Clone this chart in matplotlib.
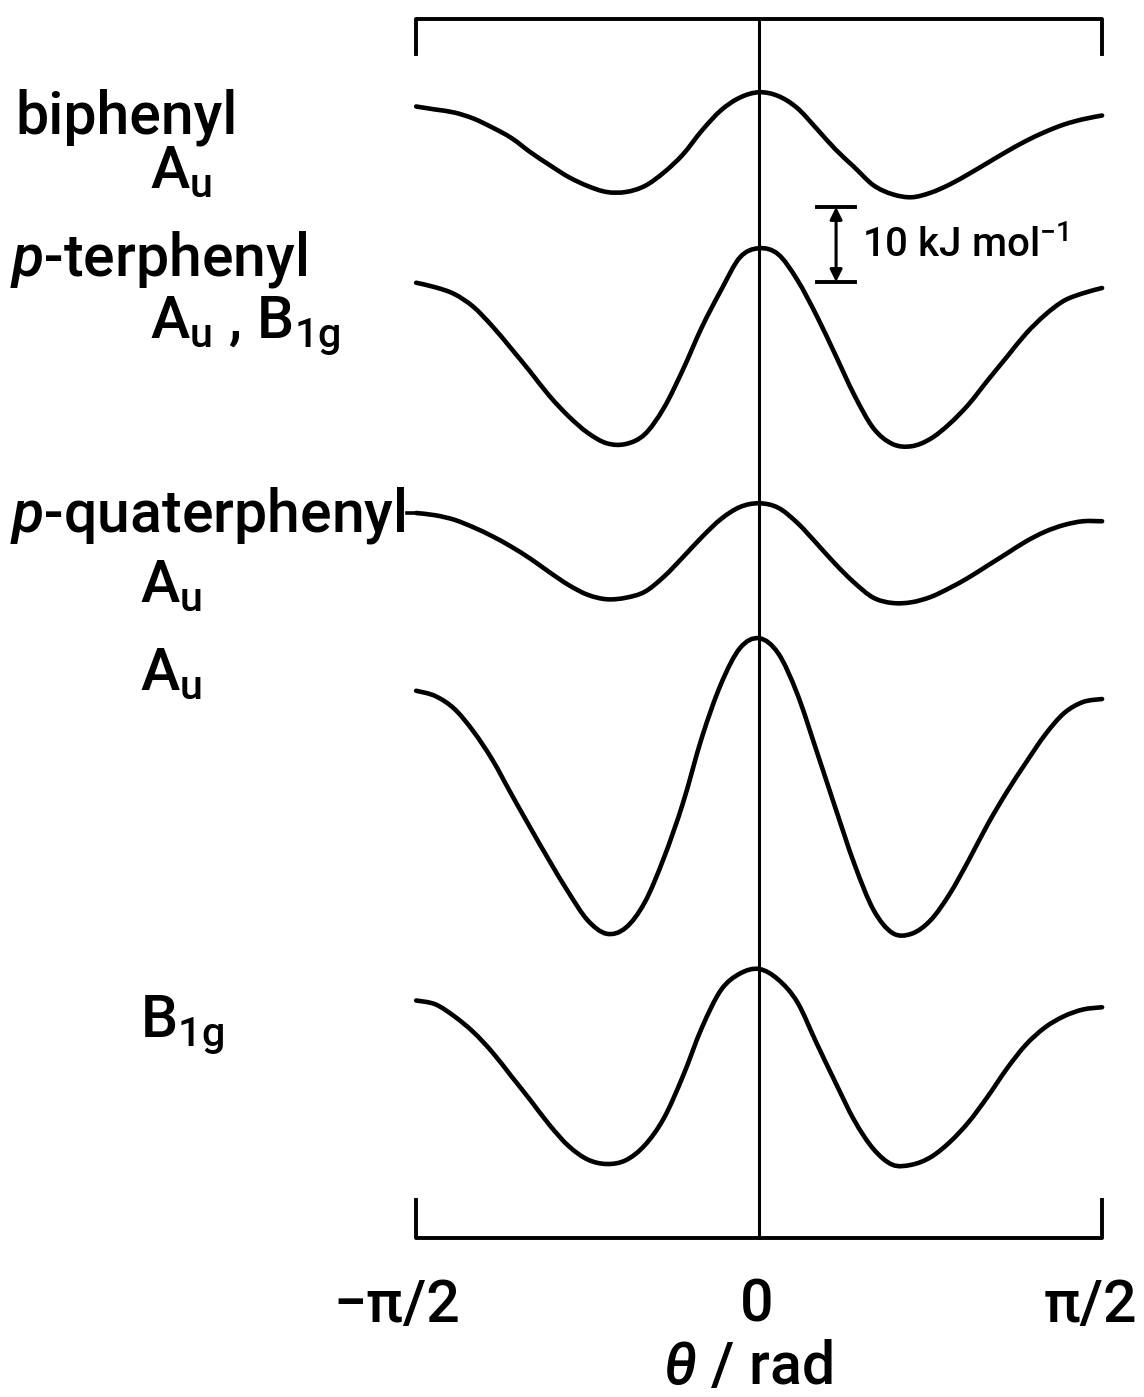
import numpy as np
import matplotlib.pyplot as plt
from matplotlib.path import Path
from matplotlib.patches import PathPatch

plt.rcParams['font.family'] = ['Roboto', 'DejaVu Sans']
plt.rcParams['font.weight'] = 'medium'
plt.rcParams['mathtext.fontset'] = 'custom'
plt.rcParams['mathtext.rm'] = 'Roboto:medium'
plt.rcParams['mathtext.it'] = 'Roboto:italic:medium'

W, H = 1144, 1397

# torsion angle grid, degrees
theta_deg = np.arange(-90, 91, 5)

# torsional potentials, kJ/mol above the lowest minimum of each curve
e_biphenyl_au = [12.1, 11.7, 11.3, 10.5, 9.3, 7.9, 6.0, 4.3, 2.7, 1.5, 0.7, 0.7, 1.5, 3.3, 5.7,
                 8.9, 11.6, 13.3, 14.0, 13.5, 11.9, 9.2, 6.4, 4.0, 1.6, 0.4, 0.0, 0.6, 1.7, 3.1,
                 4.6, 6.1, 7.5, 8.7, 9.7, 10.4, 10.9]
e_terphenyl = [21.9, 21.3, 20.4, 18.7, 16.1, 13.1, 10.0, 6.8, 4.1, 1.9, 0.5, 0.4, 1.7, 5.2, 10.3,
               16.0, 20.9, 25.3, 26.5, 25.7, 22.3, 17.6, 12.3, 6.9, 2.5, 0.4, 0.1, 1.1, 3.1, 5.7,
               8.9, 12.0, 15.1, 17.6, 19.5, 20.5, 21.2]
e_quater_au1 = [12.0, 11.7, 11.1, 10.1, 8.9, 7.5, 5.9, 4.1, 2.4, 1.1, 0.5, 0.7, 1.5, 3.5, 6.1,
                8.8, 11.2, 12.8, 13.3, 12.7, 10.7, 8.0, 5.2, 2.7, 0.7, 0.0, 0.1, 0.8, 2.0, 3.4,
                5.0, 6.6, 8.2, 9.5, 10.4, 10.9, 10.9]
e_quater_au2 = [32.7, 32.0, 30.3, 27.3, 23.5, 18.9, 14.4, 10.0, 5.8, 2.1, 0.3, 1.1, 4.5, 10.4, 17.7,
                26.5, 33.6, 38.4, 39.7, 37.7, 32.3, 24.8, 17.1, 9.6, 3.5, 0.4, 0.3, 2.1, 5.6, 10.1,
                14.9, 19.2, 23.1, 26.8, 29.7, 31.2, 31.6]
e_quater_b1g = [22.1, 21.6, 20.0, 17.9, 15.2, 12.0, 8.8, 5.5, 2.7, 0.9, 0.3, 0.8, 2.8, 6.4, 12.0,
                18.5, 23.5, 25.7, 26.3, 24.9, 21.9, 16.5, 11.2, 6.1, 2.3, 0.2, 0.2, 1.2, 3.2, 5.9,
                9.3, 13.0, 16.2, 18.5, 20.0, 20.9, 21.2]

curves = [e_biphenyl_au, e_terphenyl, e_quater_au1, e_quater_au2, e_quater_b1g]
# vertical stacking of the curves, kJ/mol
offsets = [-26.3, -59.6, -80.4, -124.8, -155.5]

scale_bar = 10  # kJ/mol


def smooth_path(x, y):
    # cubic Bezier segments through every point (Catmull-Rom tangents)
    pts = np.column_stack([x, y]).astype(float)
    ext = np.vstack([pts[0], pts, pts[-1]])
    verts = [pts[0]]
    codes = [Path.MOVETO]
    for i in range(len(pts) - 1):
        p0, p1, p2, p3 = ext[i], ext[i + 1], ext[i + 2], ext[i + 3]
        verts += [p1 + (p2 - p0) / 6, p2 - (p3 - p1) / 6, p2]
        codes += [Path.CURVE4] * 3
    return Path(verts, codes)


fig = plt.figure(figsize=(W / 100, H / 100), dpi=100)
ax = fig.add_axes([0, 0, 1, 1])
ax.set_xlim(-199.2, 101.0)
ax.set_ylim(-H / 7.5, 0)
ax.axis('off')

for e, off in zip(curves, offsets):
    path = smooth_path(theta_deg, np.array(e) + off)
    ax.add_patch(PathPatch(path, fill=False, edgecolor='k', lw=3.3,
                           capstyle='round', joinstyle='round'))

# bracket frame and theta = 0 line
ax.plot([-90, -90, 90, 90], [-7.2, -2.5, -2.5, -7.2], color='k', lw=2.8)
ax.plot([-90, -90, 90, 90], [-160.0, -165.1, -165.1, -160.0], color='k', lw=2.8)
ax.plot([0, 0], [-2.5, -165.1], color='k', lw=2.2)

# short leader from the p-quaterphenyl label
ax.plot([-92.3, -90], [-68.4, -68.4], color='k', lw=2.6)

# energy scale bar
sb_x, sb_top = 20.2, -27.6
ax.plot([sb_x - 5, sb_x + 5], [sb_top, sb_top], color='k', lw=2.8)
ax.plot([sb_x - 5, sb_x + 5], [sb_top - scale_bar, sb_top - scale_bar], color='k', lw=2.8)
ax.annotate('', xy=(sb_x, sb_top), xytext=(sb_x, sb_top - scale_bar),
            arrowprops=dict(arrowstyle='<|-|>', color='k', lw=2.2,
                            mutation_scale=18, shrinkA=0, shrinkB=0))


def fxy(x, y):
    return x / W, 1 - y / H


fs = 42.5
lab = dict(fontsize=fs, ha='left', va='baseline')
fig.text(*fxy(15, 133), 'biphenyl', **lab)
fig.text(*fxy(150, 188), r'A$_\mathregular{u}$', **lab)
fig.text(*fxy(10, 276), r'$p$-terphenyl', **lab)
fig.text(*fxy(150, 338), r'A$_\mathregular{u}$ , B$_\mathregular{1g}$', **lab)
fig.text(*fxy(10, 532), r'$p$-quaterphenyl', **lab)
fig.text(*fxy(140, 602), r'A$_\mathregular{u}$', **lab)
fig.text(*fxy(140, 690), r'A$_\mathregular{u}$', **lab)
fig.text(*fxy(140, 1037), r'B$_\mathregular{1g}$', **lab)

fig.text(*fxy(862, 245), r'10 kJ mol$^\mathregular{-1}$', fontsize=29, ha='left', va='center')

tick = dict(fontsize=fs, ha='center', va='center')
fig.text(*fxy(397, 1305), '\u2212\u03c0/2', **tick)
fig.text(*fxy(757, 1305), '0', **tick)
fig.text(*fxy(1090, 1305), '\u03c0/2', **tick)
fig.text(*fxy(748, 1368), r'$\theta$ / rad', **tick)

fig.savefig('out.png', dpi=100)
